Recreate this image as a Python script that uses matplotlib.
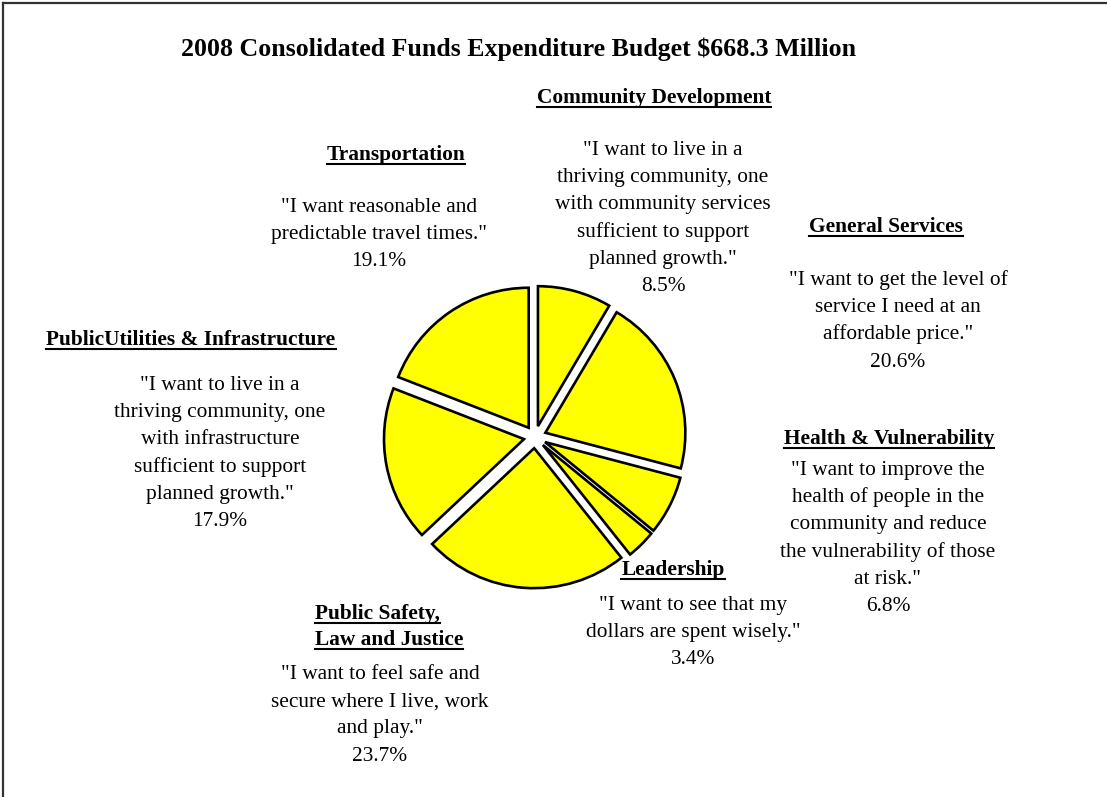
import matplotlib
matplotlib.use("Agg")
import matplotlib.pyplot as plt
from matplotlib.lines import Line2D

# ---- data ----
categories = [
    "Community Development",
    "General Services",
    "Health & Vulnerability",
    "Leadership",
    "Public Safety,\nLaw and Justice",
    "PublicUtilities & Infrastructure",
    "Transportation",
]
shares = [8.5, 20.6, 6.8, 3.4, 23.7, 17.9, 19.1]
quotes = [
    ['"I want to live in a', "thriving community, one", "with community services",
     "sufficient to support", 'planned growth."'],
    ['"I want to get the level of', "service I need at an", 'affordable price."'],
    ['"I want to improve the', "health of people in the", "community and reduce",
     "the vulnerability of those", 'at risk."'],
    ['"I want to see that my', 'dollars are spent wisely."'],
    ['"I want to feel safe and', "secure where I live, work", 'and play."'],
    ['"I want to live in a', "thriving community, one", "with infrastructure",
     "sufficient to support", 'planned growth."'],
    ['"I want reasonable and', 'predictable travel times."'],
]
title = "2008 Consolidated Funds Expenditure Budget $668.3 Million"

# ---- layout (pixel coordinates, y measured from the top) ----
W, H = 1107, 797
FONT = "Liberation Serif"
TEXT_SIZE = 15.4
# heading: (x, first baseline, alignment); body: (center x, first baseline)
head_pos = [
    (654, 103, "center"),
    (886, 232, "center"),
    (889, 444, "center"),
    (673, 575, "center"),
    (315, 619, "left"),
    (191, 345, "center"),
    (396, 160, "center"),
]
body_pos = [
    (663, 155),
    (898, 285),
    (888, 475),
    (693, 610),
    (380, 679),
    (220, 390),
    (379, 212),
]
line_step = 27.2
head_step = 26

fig = plt.figure(figsize=(W / 100, H / 100), dpi=100)
fig.patch.set_facecolor("white")

# pie: one data unit equals the radius (140 px)
R = 140.0
cx, cy = 535, 437
half = 2.0 * R
pie_ax = fig.add_axes([(cx - half) / W, (H - cy - half) / H, 2 * half / W, 2 * half / H])
pie_ax.pie(
    shares,
    startangle=90,
    counterclock=False,
    radius=1.0,
    explode=[0.08] * len(shares),
    colors=["#FFFF00"] * len(shares),
    wedgeprops=dict(edgecolor="black", linewidth=1.9),
)
pie_ax.set_xlim(-2, 2)
pie_ax.set_ylim(-2, 2)
pie_ax.set_aspect("equal")
pie_ax.axis("off")


def fx(x):
    return x / W


def fy(y):
    return 1 - y / H


# title
fig.text(fx(519), fy(56), title, ha="center", va="baseline",
         fontsize=18.6, fontweight="bold", family=FONT)

headings = []
for name, (hx, hy, ha), lines, (bx, by), val in zip(categories, head_pos, quotes, body_pos, shares):
    for k, part in enumerate(name.split("\n")):
        t = fig.text(fx(hx), fy(hy + k * head_step), part, ha=ha, va="baseline",
                     fontsize=TEXT_SIZE, fontweight="bold", family=FONT)
        headings.append((t, hy + k * head_step))
    for k, line in enumerate(lines + [f"{val:.1f}%"]):
        fig.text(fx(bx), fy(by + k * line_step), line, ha="center", va="baseline",
                 fontsize=TEXT_SIZE, family=FONT)

# underline the headings
fig.canvas.draw()
renderer = fig.canvas.get_renderer()
for t, base in headings:
    bb = t.get_window_extent(renderer)
    uy = fy(base + 3.5)
    fig.add_artist(Line2D([bb.x0 / W, bb.x1 / W], [uy, uy], color="black",
                          linewidth=1.5, transform=fig.transFigure))

# frame lines along the top and left edges
fig.add_artist(Line2D([fx(3), 1.0], [fy(3), fy(3)], color="#333333", linewidth=1.6,
                      transform=fig.transFigure))
fig.add_artist(Line2D([fx(3), fx(3)], [fy(3), 0.0], color="#333333", linewidth=1.6,
                      transform=fig.transFigure))

fig.savefig("out.png", dpi=100, facecolor="white")
